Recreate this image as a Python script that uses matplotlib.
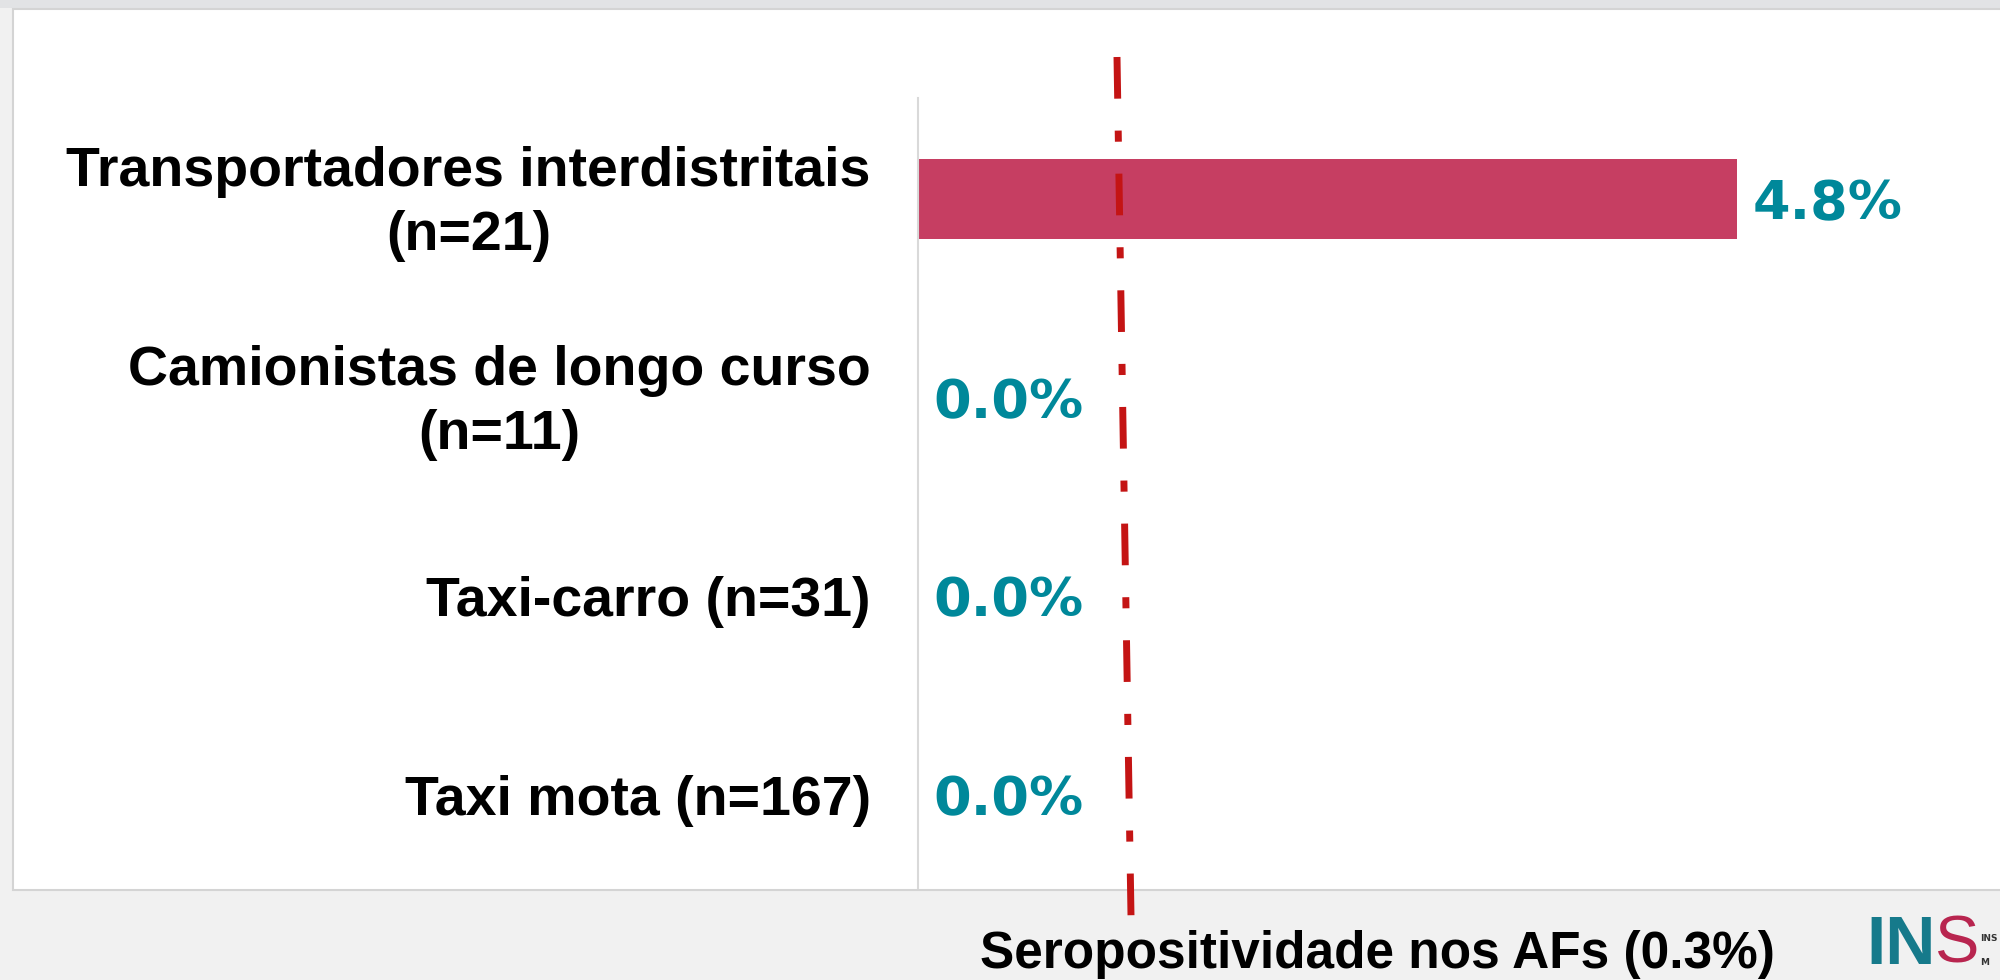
import numpy as np
import matplotlib.pyplot as plt
from matplotlib.patches import Rectangle
from matplotlib.lines import Line2D
from matplotlib.transforms import ScaledTranslation

# data
categories = ["Transportadores interdistritais\n(n=21)",
              "Camionistas de longo curso\n(n=11)",
              "Taxi-carro (n=31)",
              "Taxi mota (n=167)"]
values = [4.8, 0.0, 0.0, 0.0]
ref_value = 0.3
ref_label = "Seropositividade nos AFs (%.1f%%)" % ref_value

bar_col = "#C63E62"
val_col = "#00889A"
ref_col = "#C41414"

plt.rcParams['lines.scale_dashes'] = False

W, H = 2000, 980
fig = plt.figure(figsize=(W/100, H/100), dpi=100, facecolor="#F1F1F1")

# slide background + white panel
fig.patches.append(Rectangle((0, 1-8/H), 1, 8/H, transform=fig.transFigure,
                             facecolor="#E2E3E5", edgecolor="none", zorder=-2))
fig.patches.append(Rectangle((13/W, 1-890/H), 1, (890-9)/H, transform=fig.transFigure,
                             facecolor="white", edgecolor="#D4D4D4", lw=1.5, zorder=-1))

ax = fig.add_axes([918/W, 1-888/H, (1990-918)/W, (888-98)/H])
ax.patch.set_alpha(0)

y = np.arange(len(categories))
ax.barh(y, values, height=0.405, color=bar_col, zorder=2)

for i, v in enumerate(values):
    ax.annotate("%.1f%%" % v, (v, i), xytext=(11, -4), textcoords='offset points',
                ha='left', va='center', color=val_col, fontsize=39,
                fontweight='bold', family='DejaVu Sans')

ax.set_xlim(0, 6.28)
ax.set_ylim(3.471, -0.51)
ax.set_yticks(y)
ax.set_yticklabels(categories, fontsize=40, fontweight='bold',
                   family=['Liberation Sans', 'DejaVu Sans'], multialignment='center',
                   linespacing=1.3)
ax.tick_params(axis='y', length=0, pad=34)
ax.tick_params(axis='x', bottom=False, labelbottom=False)
shift = ScaledTranslation(0, -0.05, fig.dpi_scale_trans)
for lab in ax.get_yticklabels():
    if "\n" in lab.get_text():
        lab.set_va('center')
        lab.set_transform(lab.get_transform() + shift)
for s in ['top', 'right', 'bottom']:
    ax.spines[s].set_visible(False)
ax.spines['left'].set_color("#D9D9D9")
ax.spines['left'].set_linewidth(1.5)

# reference line (drawn over the slide, as in the original)
ln = Line2D([1117/W, 1131/W], [1-57/H, 1-916/H], transform=fig.transFigure,
            color=ref_col, lw=5, solid_capstyle='butt', dash_capstyle='butt', zorder=5)
ln.set_dashes((30, 23, 8, 23))
fig.lines.append(ln)
fig.text(1377/W, 1-954/H, ref_label, ha='center', va='center', fontsize=37,
         fontweight='bold', family=['Liberation Sans', 'DejaVu Sans'])

# logo (rough)
fig.text(1866/W, 1-978/H, "IN", color="#167A8B", fontsize=50, fontweight='bold',
         family='Liberation Sans', va='bottom', ha='left')
fig.text(1934/W, 1-976/H, "S", color="#B8254F", fontsize=48,
         family='Liberation Sans', va='bottom', ha='left')
fig.text(1980/W, 1-938/H, "INS", color="#333333", fontsize=6.5, fontweight='bold',
         va='center', ha='left')
fig.text(1980/W, 1-962/H, "M", color="#333333", fontsize=6.5, fontweight='bold',
         va='center', ha='left')

fig.savefig("out.png", dpi=100, facecolor=fig.get_facecolor())
